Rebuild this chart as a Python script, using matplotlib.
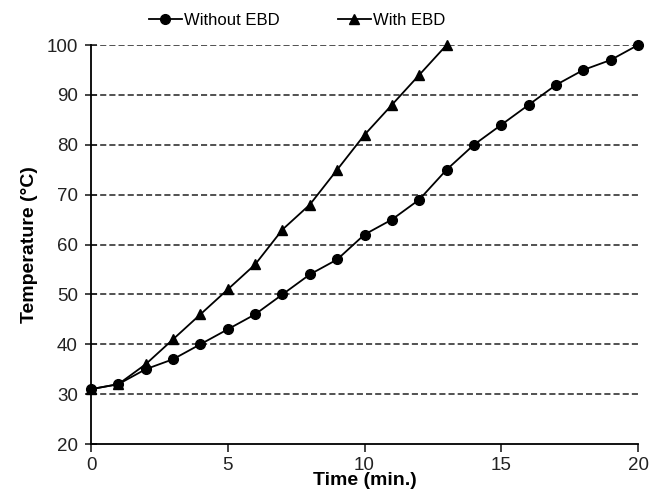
import matplotlib
matplotlib.use("Agg")
import matplotlib.pyplot as plt

plt.rcParams['font.family'] = ['Liberation Sans', 'DejaVu Sans']

time_without = list(range(0, 21))
temp_without = [31, 32, 35, 37, 40, 43, 46, 50, 54, 57, 62, 65, 69, 75, 80, 84, 88, 92, 95, 97, 100]
time_with = list(range(0, 14))
temp_with = [31, 32, 36, 41, 46, 51, 56, 63, 68, 75, 82, 88, 94, 100]

fig = plt.figure(figsize=(6.52, 4.98), dpi=100)
ax = fig.add_axes([0.1396, 0.1084, 0.839, 0.8012])

ax.plot(time_without, temp_without, color='black', marker='o', markersize=7, lw=1.3,
        label='Without EBD', zorder=3, clip_on=False)
ax.plot(time_with, temp_with, color='black', marker='^', markersize=7, lw=1.3,
        label='With EBD', zorder=3, clip_on=False)

for y in range(30, 101, 10):
    ax.axhline(y, color='#222222', ls=(0, (4, 2)), lw=1.1, zorder=1)

ax.set_xlim(0, 20)
ax.set_ylim(20, 100)
ax.set_xticks([0, 5, 10, 15, 20])
ax.set_yticks(range(20, 101, 10))
ax.spines['top'].set_visible(False)
ax.spines['right'].set_visible(False)
ax.spines['left'].set_linewidth(1.3)
ax.spines['bottom'].set_linewidth(1.3)
ax.tick_params(length=6, width=1.2, labelsize=13.5, colors='#222222')
ax.tick_params(axis='x', direction='out', pad=3)
ax.tick_params(axis='y', direction='inout', length=9, pad=5)

ax.set_xlabel('Time (min.)', fontsize=14, fontweight='bold', labelpad=-1)
ax.set_ylabel('Temperature (°C)', fontsize=14, fontweight='bold', labelpad=6)

fig.legend(loc='upper center', bbox_to_anchor=(0.455, 1.005), ncol=2, frameon=False,
           fontsize=12, handlelength=2.0, columnspacing=3.5, handletextpad=0.1)

fig.savefig('out.png', dpi=100)
